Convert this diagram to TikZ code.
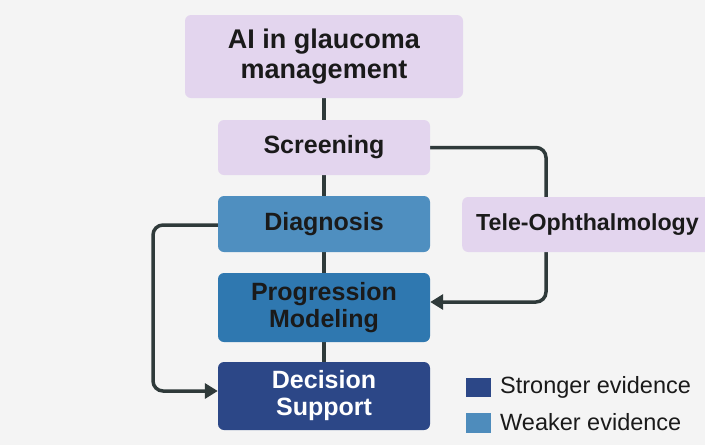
\documentclass[tikz,border=0pt]{standalone}
\usepackage{fontspec}
\setmainfont{Liberation Sans}
\usetikzlibrary{arrows.meta}
\pgfdeclarelayer{bg}
\pgfsetlayers{bg,main}
\definecolor{bgc}{HTML}{F4F4F4}
\definecolor{lilac}{HTML}{E3D5EE}
\definecolor{diagc}{HTML}{4F8FC0}
\definecolor{progc}{HTML}{2F78B0}
\definecolor{decc}{HTML}{2C4787}
\definecolor{linec}{HTML}{2F3A3A}
\definecolor{txt}{HTML}{1A1A1A}
\begin{document}
\begin{tikzpicture}[x=1pt,y=-1pt,
  box/.style={rounded corners=6pt, inner sep=0pt, align=center, font=\fontsize{25}{27}\selectfont\bfseries, text=txt},
  conn/.style={draw=linec, line width=3.5pt},
  arr/.style={conn, rounded corners=10pt, -{Triangle[length=13pt,width=15pt]}},
  leg/.style={anchor=west, inner sep=0pt, font=\fontsize{23.5}{26}\selectfont, text=txt}]
\useasboundingbox (0,0) rectangle (705,445);
\clip (0,0) rectangle (705,445);
\node[box, fill=lilac, minimum width=278pt, minimum height=83pt, font=\fontsize{27}{30}\selectfont\bfseries] (ai) at (324,56.5) {AI in glaucoma\\management};
\node[box, fill=lilac, minimum width=212pt, minimum height=55pt] (scr) at (324,147.5) {\raisebox{-2pt}{Screening}};
\node[box, fill=diagc, minimum width=212pt, minimum height=56pt] (dia) at (324,224) {\raisebox{-2pt}{Diagnosis}};
\node[box, fill=progc, minimum width=212pt, minimum height=69pt] (prog) at (324,307.5) {Progression\\Modeling};
\node[box, fill=decc, minimum width=212pt, minimum height=68pt, text=white] (dec) at (324,396) {Decision\\Support};
\node[box, fill=lilac, minimum width=260pt, minimum height=55pt, anchor=west, align=left, text width=246pt, inner xsep=14pt, font=\fontsize{23.2}{25}\selectfont\bfseries] (tele) at (462,224.5) {\raisebox{-2pt}{Tele-Ophthalmology}};
\node[fill=decc, minimum width=25pt, minimum height=19pt, inner sep=0pt] (ls) at (478.5,387.5) {};
\node[fill=progc!85!white, minimum width=25pt, minimum height=20pt, inner sep=0pt] (lw) at (478.5,423) {};
\node[leg] (lst) at (500,387.5) {Stronger evidence};
\node[leg] (lwt) at (500,422) {Weaker evidence};
\coordinate (tr) at (546,147.5);
\coordinate (tb) at (546,302);
\coordinate (dl) at (153,225);
\coordinate (db) at (153,391);
\begin{pgfonlayer}{bg}
\fill[bgc] (0,0) rectangle (705,445);
\draw[conn] (ai.south) -- (scr.north);
\draw[conn] (scr.south) -- (dia.north);
\draw[conn] (dia.south) -- (prog.north);
\draw[conn] (prog.south) -- (dec.north);
\draw[arr] (scr.east) -- (tr) -- (tb) -- (prog.east |- tb);
\draw[arr] (dia.west |- dl) -- (dl) -- (db) -- (dec.west |- db);
\end{pgfonlayer}
\end{tikzpicture}
\end{document}
